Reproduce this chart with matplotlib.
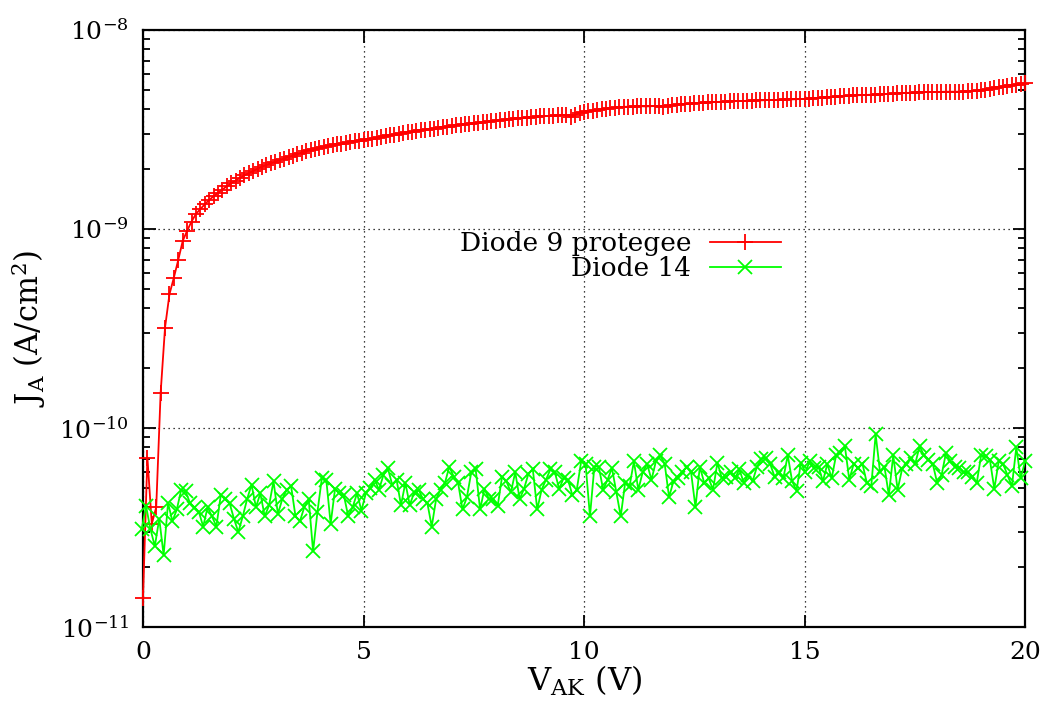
import numpy as np
import matplotlib
matplotlib.use('Agg')
import matplotlib.pyplot as plt
from matplotlib.ticker import LogLocator, NullFormatter

plt.rcParams['font.family'] = ['DejaVu Serif']
plt.rcParams['mathtext.fontset'] = 'dejavuserif'

# Diode 9 protegee, J_A (A/cm2), pas de 0.1 V de 0 a 20 V
diode9_j = [
    0.014, 0.071, 0.033, 0.040, 0.15, 0.32, 0.47, 0.57, 0.70, 0.87, 0.98, 1.09, 1.19,
    1.26, 1.33, 1.40, 1.46, 1.52, 1.58, 1.64, 1.70, 1.75, 1.81, 1.86, 1.91, 1.96, 2.01,
    2.06, 2.10, 2.14, 2.18, 2.22, 2.26, 2.30, 2.34, 2.38, 2.42, 2.46, 2.49, 2.52, 2.55,
    2.58, 2.61, 2.64, 2.66, 2.68, 2.71, 2.74, 2.76, 2.78, 2.80,
    2.83, 2.85, 2.88, 2.91, 2.93, 2.96, 2.98, 3.01, 3.03, 3.06, 3.08, 3.11, 3.13, 3.16,
    3.18, 3.20, 3.23, 3.25, 3.27, 3.29, 3.32, 3.35, 3.37, 3.39, 3.40, 3.42, 3.44, 3.46,
    3.48, 3.51, 3.53, 3.55, 3.57, 3.59, 3.60, 3.62, 3.63, 3.65, 3.66, 3.68, 3.69, 3.70,
    3.71, 3.72, 3.73, 3.74, 3.64, 3.76, 3.82, 3.86,
    3.90, 3.93, 3.96, 3.99, 4.02, 4.05, 4.07, 4.09, 4.11, 4.12, 4.12, 4.13, 4.14, 4.13,
    4.14, 4.15, 4.13, 4.12, 4.16, 4.19, 4.22, 4.24, 4.25, 4.27, 4.29, 4.30, 4.32, 4.33,
    4.34, 4.35, 4.36, 4.37, 4.38, 4.39, 4.40, 4.40, 4.41, 4.42, 4.43, 4.43, 4.44, 4.45,
    4.45, 4.46, 4.47, 4.48, 4.48, 4.49, 4.50, 4.51,
    4.52, 4.54, 4.56, 4.58, 4.59, 4.61, 4.63, 4.64, 4.66, 4.67, 4.69, 4.70, 4.71, 4.72,
    4.73, 4.74, 4.75, 4.76, 4.78, 4.79, 4.81, 4.82, 4.83, 4.84, 4.85, 4.86, 4.87, 4.88,
    4.88, 4.89, 4.89, 4.90, 4.90, 4.90, 4.90, 4.91, 4.92, 4.94, 4.96, 4.98, 5.00, 5.06,
    5.12, 5.16, 5.20, 5.24, 5.28, 5.32, 5.36, 5.40,
]  # x 1e-9

# Diode 14
diode14_j = [
    3.1, 4.05, 3.1, 2.55, 3.5, 2.3, 4.2, 3.4, 3.9, 4.9, 4.8, 4.2, 3.98, 3.8, 3.2, 4.0,
    3.6, 3.2, 4.6, 4.4, 4.2, 3.5, 3.0, 3.6, 4.4, 5.2, 4.0, 4.7, 3.6, 4.1, 5.4, 3.7, 4.4,
    4.9, 5.1, 3.6, 3.4, 4.0, 4.4, 2.4, 3.8, 5.6, 5.5, 3.3, 4.95, 4.7, 4.6, 3.6, 4.0, 4.7,
    3.85, 4.7, 5.0, 5.5, 4.9, 5.8, 6.3, 5.2, 5.5, 4.1, 5.3, 4.1, 4.75, 4.9, 4.4, 4.2,
    3.2, 4.4, 4.9, 5.3, 6.4, 5.7, 5.3, 3.9, 4.5, 6.0, 6.2, 3.9, 4.95, 4.4, 4.4, 4.05,
    5.7, 5.4, 4.75, 6.0, 4.4, 4.95, 5.9, 6.2, 3.9, 4.9, 5.5, 6.2, 6.0, 4.95, 5.6, 5.5,
    4.6, 4.9, 6.8, 6.6, 3.6, 6.4, 6.4, 4.9, 5.5, 6.3, 4.75, 3.6, 5.3, 5.1, 6.8, 4.9,
    6.0, 6.6, 5.5, 6.8, 7.3, 6.6, 4.5, 5.4, 5.6, 6.0, 6.4, 6.0, 4.0, 6.4, 5.3, 5.6,
    4.9, 6.7, 5.6, 5.7, 6.0, 5.6, 6.2, 5.3, 5.8, 5.4, 6.4, 7.0, 7.1, 6.6, 5.7, 6.0,
    5.6, 7.3, 5.4, 4.85, 6.7, 6.0, 6.8, 6.3, 6.4, 5.4, 6.6, 5.6, 7.3, 7.5, 8.1, 5.5,
    6.6, 6.3, 6.6, 5.3, 5.1, 9.3, 6.0, 6.4, 4.6, 7.3, 4.9, 6.2, 6.6, 7.1, 6.6, 8.1,
    7.3, 6.9, 6.6, 5.3, 5.8, 7.5, 6.8, 6.4, 6.3, 6.0, 6.0, 5.7, 5.3, 7.3, 7.2, 6.9,
    4.95, 6.8, 6.6, 5.8, 5.1, 8.0, 5.6, 6.8,
]  # x 1e-11

v9 = np.linspace(0, 20, len(diode9_j))
v14 = np.linspace(-0.03, 20, len(diode14_j))
j9 = np.array(diode9_j) * 1e-9
j14 = np.array(diode14_j) * 1e-11

fig = plt.figure(figsize=(10.46, 7.15), dpi=100)
ax = fig.add_axes([0.1367, 0.123, 0.8433, 0.835])

ax.plot(v9, j9, color='#ff0000', lw=1.3, marker='+', ms=12, mew=1.3,
        label='Diode 9 protegee', clip_on=False, zorder=3)
ax.plot(v14, j14, color='#00ff00', lw=1.3, marker='x', ms=10, mew=1.3,
        label='Diode 14', clip_on=False, zorder=3)

ax.set_yscale('log')
ax.set_xlim(0, 20)
ax.set_ylim(1e-11, 1e-8)
ax.set_xticks([0, 5, 10, 15, 20])
ax.yaxis.set_major_locator(LogLocator(base=10, numticks=10))
ax.yaxis.set_minor_locator(LogLocator(base=10, subs=np.arange(2, 10), numticks=20))
ax.yaxis.set_minor_formatter(NullFormatter())

ax.grid(True, which='major', color='black', linestyle=(0, (1, 3)), linewidth=0.9)
ax.tick_params(which='both', direction='in', top=True, right=True, width=1.3)
ax.tick_params(which='major', length=9, labelsize=18, pad=10)
ax.tick_params(which='minor', length=5)
for s in ax.spines.values():
    s.set_linewidth(1.6)

ax.set_xlabel('V$_{\\rm AK}$ (V)', fontsize=23, labelpad=0)
ax.set_ylabel('J$_{\\rm A}$ (A/cm$^2$)', fontsize=22, labelpad=8)

ax.legend(loc='center right', bbox_to_anchor=(0.738, 0.621), frameon=False,
          markerfirst=False, fontsize=19, handlelength=2.7, handletextpad=0.7,
          labelspacing=0.0, borderpad=0)

fig.savefig('out.png', dpi=100)
